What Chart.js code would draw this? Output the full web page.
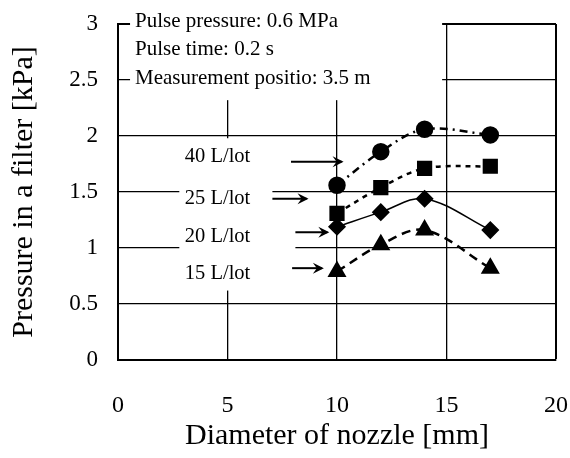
<!DOCTYPE html>
<html>
<head>
<meta charset="utf-8">
<script src="https://cdn.jsdelivr.net/npm/chart.js@4"></script>
<style>
  html, body { margin: 0; padding: 0; background: #fff; }
  #wrap { width: 570px; height: 458px; }
</style>
</head>
<body>
<div id="wrap"><canvas id="nozzleChart"></canvas></div>
<script>
// nozzle diameter [mm]
const diameters = [10, 12, 14, 17];
// pressure in a filter [kPa] per air volume
const p40 = [1.56, 1.86, 2.06, 2.01];
const p25 = [1.31, 1.54, 1.71, 1.73];
const p20 = [1.19, 1.32, 1.44, 1.16];
const p15 = [0.79, 1.03, 1.16, 0.82];
const seriesNames = ['40 L/lot', '25 L/lot', '20 L/lot', '15 L/lot'];
const xTicks = [0, 5, 10, 15, 20];
const yTicks = [0, 0.5, 1, 1.5, 2, 2.5, 3];
const conditions = ['Pulse pressure: 0.6 MPa', 'Pulse time: 0.2 s', 'Measurement positio: 3.5 m'];
const xTitle = 'Diameter of nozzle [mm]';
const yTitle = 'Pressure in a filter [kPa]';

const serif = '"Liberation Serif", "Times New Roman", serif';

function toPoints(ys) {
    return diameters.map((d, i) => ({ x: d, y: ys[i] }));
}

// label boxes, in data units of the chart
const labelSpots = [
    { text: seriesNames[0], tx: 3.05, ty: 1.82, ax0: 7.9, ax1: 10.3, ay: 1.77 },
    { text: seriesNames[1], tx: 3.05, ty: 1.44, ax0: 7.05, ax1: 8.7, ay: 1.44 },
    { text: seriesNames[2], tx: 3.05, ty: 1.10, ax0: 8.1, ax1: 9.65, ay: 1.14 },
    { text: seriesNames[3], tx: 3.05, ty: 0.77, ax0: 7.95, ax1: 9.4, ay: 0.82 }
];

const notesPlugin = {
    id: 'notes',
    beforeDatasetsDraw(chart) {
        const ctx = chart.ctx;
        const xs = chart.scales.x, ys = chart.scales.y;
        ctx.save();
        ctx.fillStyle = '#fff';
        // box behind the test conditions
        const l = xs.getPixelForValue(0.55), r = xs.getPixelForValue(14.8);
        ctx.fillRect(l, 0, r - l, ys.getPixelForValue(2.32));
        // boxes behind the series labels
        const l2 = xs.getPixelForValue(2.8);
        const r2 = xs.getPixelForValue(7.05), r3 = xs.getPixelForValue(8.1);
        const t2 = ys.getPixelForValue(1.98), m2 = ys.getPixelForValue(1.25), b2 = ys.getPixelForValue(0.62);
        ctx.fillRect(l2, t2, r2 - l2, m2 - t2);
        ctx.fillRect(l2, m2, r3 - l2, b2 - m2);
        ctx.restore();
    },
    afterDraw(chart) {
        const ctx = chart.ctx;
        const xs = chart.scales.x, ys = chart.scales.y;
        const area = chart.chartArea;
        ctx.save();
        ctx.fillStyle = '#000';
        ctx.strokeStyle = '#000';
        ctx.textBaseline = 'middle';
        ctx.textAlign = 'left';

        ctx.font = '21px ' + serif;
        conditions.forEach((c, i) => {
            ctx.fillText(c, area.left + 17, 21 + i * 28.5);
        });

        ctx.font = '20.5px ' + serif;
        labelSpots.forEach(s => {
            ctx.fillText(s.text, xs.getPixelForValue(s.tx), ys.getPixelForValue(s.ty));
            const x0 = xs.getPixelForValue(s.ax0), x1 = xs.getPixelForValue(s.ax1);
            const y = ys.getPixelForValue(s.ay);
            ctx.lineWidth = 2;
            ctx.beginPath();
            ctx.moveTo(x0, y);
            ctx.lineTo(x1 - 2, y);
            ctx.stroke();
            ctx.beginPath();
            ctx.moveTo(x1, y);
            ctx.lineTo(x1 - 11, y - 5.5);
            ctx.lineTo(x1 - 7, y);
            ctx.lineTo(x1 - 11, y + 5.5);
            ctx.closePath();
            ctx.fill();
        });
        ctx.restore();
    }
};

const ctxChart = document.getElementById('nozzleChart');
new Chart(ctxChart, {
    type: 'line',
    data: {
        datasets: [{
            label: seriesNames[0],
            data: toPoints(p40),
            borderColor: '#000',
            backgroundColor: '#000',
            borderWidth: 2.5,
            borderDash: [8, 5, 2, 5],
            pointStyle: 'circle',
            pointRadius: 7.5,
            tension: 0.35
        }, {
            label: seriesNames[1],
            data: toPoints(p25),
            borderColor: '#000',
            backgroundColor: '#000',
            borderWidth: 2.5,
            borderDash: [5, 5],
            pointStyle: 'rect',
            pointRadius: 9,
            tension: 0.35
        }, {
            label: seriesNames[2],
            data: toPoints(p20),
            borderColor: '#000',
            backgroundColor: '#000',
            borderWidth: 1.5,
            pointStyle: 'rectRot',
            pointRadius: 8,
            tension: 0.35
        }, {
            label: seriesNames[3],
            data: toPoints(p15),
            borderColor: '#000',
            backgroundColor: '#000',
            borderWidth: 2.5,
            borderDash: [9, 6],
            pointStyle: 'triangle',
            pointRadius: 8.5,
            tension: 0.35
        }]
    },
    options: {
        responsive: true,
        maintainAspectRatio: false,
        animation: false,
        layout: { padding: { top: 24, right: 12, left: 0, bottom: 0 } },
        plugins: {
            legend: { display: false },
            tooltip: { enabled: false }
        },
        scales: {
            x: {
                type: 'linear',
                min: 0,
                max: 20,
                afterBuildTicks: scale => { scale.ticks = xTicks.map(v => ({ value: v })); },
                afterFit: scale => { scale.height = 98; },
                grid: {
                    color: '#000',
                    lineWidth: c => (c.tick && c.tick.value === 20 ? 2 : 1.3),
                    drawTicks: true,
                    tickLength: 29,
                    tickColor: 'rgba(0,0,0,0)'
                },
                border: { color: '#000', width: 2 },
                ticks: {
                    color: '#000',
                    padding: 2,
                    font: { family: serif, size: 24 },
                    callback: v => String(v)
                },
                title: {
                    display: true,
                    text: xTitle,
                    color: '#000',
                    padding: { bottom: 4 },
                    font: { family: serif, size: 30 }
                }
            },
            y: {
                min: 0,
                max: 3,
                afterBuildTicks: scale => { scale.ticks = yTicks.map(v => ({ value: v })); },
                afterFit: scale => { scale.width = 118; },
                grid: {
                    color: '#000',
                    lineWidth: c => (c.tick && c.tick.value === 3 ? 2 : 1.3),
                    drawTicks: true,
                    tickLength: 18,
                    tickColor: 'rgba(0,0,0,0)'
                },
                border: { color: '#000', width: 2 },
                ticks: {
                    color: '#000',
                    padding: 2,
                    font: { family: serif, size: 23 },
                    callback: v => String(v)
                },
                title: {
                    display: true,
                    text: yTitle,
                    color: '#000',
                    padding: { top: 6 },
                    font: { family: serif, size: 30 }
                }
            }
        }
    },
    plugins: [notesPlugin]
});
</script>
</body>
</html>
